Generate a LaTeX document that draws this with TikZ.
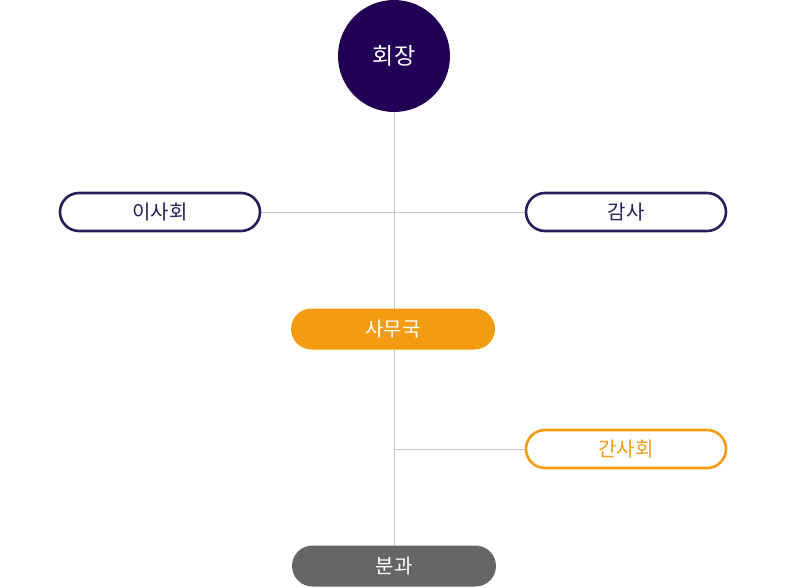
\documentclass[tikz,border=0pt]{standalone}
\usepackage{fontspec}
\setmainfont{Noto Sans CJK KR}
\usetikzlibrary{backgrounds}
\definecolor{chiefpurple}{HTML}{220055}
\definecolor{boardnavy}{HTML}{2A1D5C}
\definecolor{officeorange}{HTML}{F39C12}
\definecolor{groupgray}{HTML}{666666}
\definecolor{linkgray}{HTML}{C8C8C8}

\begin{document}
\begin{tikzpicture}[x=1pt, y=-1pt,
	pill/.style={rectangle, rounded corners=19pt, minimum width=200pt, minimum height=38pt, line width=2.6pt, font=\fontsize{20}{24}\selectfont, inner sep=0pt},
	link/.style={draw=linkgray, line width=1pt}]
	\useasboundingbox (0,0) rectangle (786,587);
	\node (H) at (394,56) [circle, fill=chiefpurple, minimum size=112pt, inner sep=0pt, text=white, font=\fontsize{23}{27}\selectfont] {회장};
	\node (B) at (160,212) [pill, draw=boardnavy, fill=white, text=boardnavy] {이사회};
	\node (A) at (626,212) [pill, draw=boardnavy, fill=white, text=boardnavy] {감사};
	\node (S) at (393,329) [pill, fill=officeorange, minimum width=204pt, minimum height=41pt, line width=0pt, rounded corners=20.5pt, text=white] {사무국};
	\node (G) at (626,449) [pill, draw=officeorange, fill=white, text=officeorange] {간사회};
	\node (D) at (394,566) [pill, fill=groupgray, minimum width=204pt, minimum height=41pt, line width=0pt, rounded corners=20.5pt, text=white] {분과};
	\coordinate (J) at (G.west -| H.south);
	\begin{pgfonlayer}{background}
		\draw [link] (H.south) to (D.north);
		\draw [link] (B.east) to (A.west);
		\draw [link] (J) to (G.west);
	\end{pgfonlayer}
\end{tikzpicture}
\end{document}
